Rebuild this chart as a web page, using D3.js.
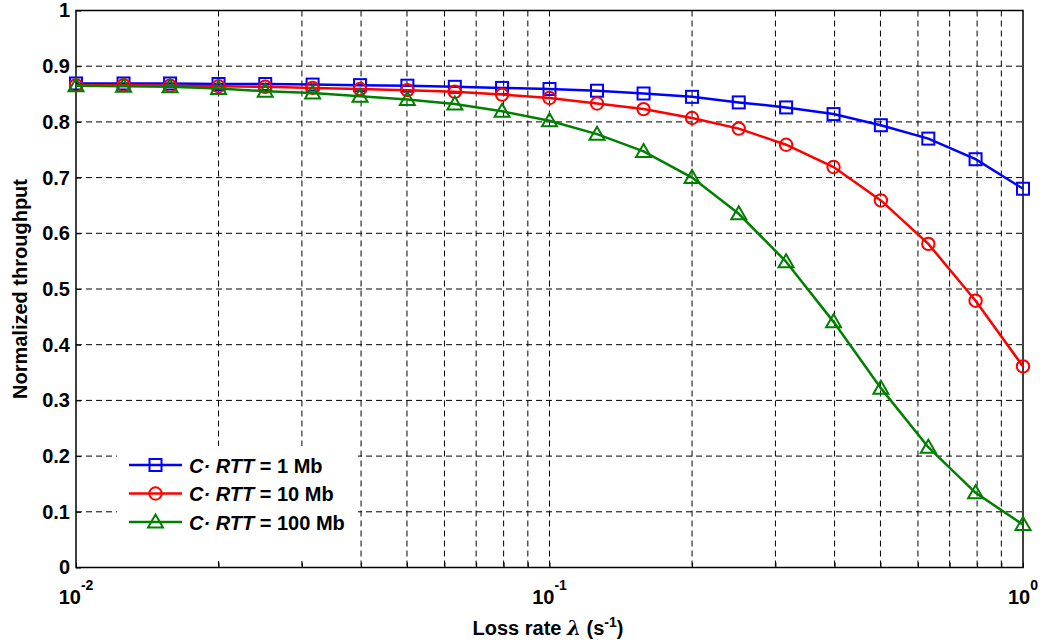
<!DOCTYPE html>
<html>
<head>
<meta charset="utf-8">
<script src="https://cdn.jsdelivr.net/npm/d3@7"></script>
<style>
  body { margin: 0; background: #fff; }
  text { font-family: "Liberation Sans", Arial, Helvetica, sans-serif; font-weight: bold; }
</style>
</head>
<body>
<div id="chart"></div>
<script>
// loss rate: 10 points per decade, 1e-2 .. 1e0
const lossRate = [0.01, 0.0126, 0.0158, 0.02, 0.0251, 0.0316, 0.0398, 0.0501, 0.0631, 0.0794,
                  0.1, 0.126, 0.158, 0.2, 0.251, 0.316, 0.398, 0.501, 0.631, 0.794, 1];
const tput1Mb   = [0.869, 0.869, 0.869, 0.868, 0.868, 0.867, 0.866, 0.865, 0.863, 0.861,
                   0.859, 0.856, 0.851, 0.845, 0.835, 0.826, 0.814, 0.794, 0.770, 0.733, 0.680];
const tput10Mb  = [0.866, 0.866, 0.865, 0.864, 0.863, 0.861, 0.859, 0.857, 0.854, 0.849,
                   0.843, 0.833, 0.823, 0.807, 0.788, 0.759, 0.719, 0.659, 0.581, 0.479, 0.361];
const tput100Mb = [0.865, 0.864, 0.863, 0.860, 0.855, 0.852, 0.846, 0.840, 0.832, 0.819,
                   0.802, 0.778, 0.747, 0.700, 0.635, 0.549, 0.441, 0.322, 0.216, 0.134, 0.077];
const seriesNames = ["1 Mb", "10 Mb", "100 Mb"];
const seriesColors = ["#0000ff", "#ff0000", "#008000"];
const seriesMarkers = ["square", "circle", "triangle"];
const yTicks = [0, 0.1, 0.2, 0.3, 0.4, 0.5, 0.6, 0.7, 0.8, 0.9, 1];
const xDecades = [0.01, 0.1, 1];
const xDecadeExp = ["-2", "-1", "0"];

const width = 1043, height = 643;
const mLeft = 76, mRight = 1023, mTop = 10.5, mBottom = 567.5;

const x = d3.scaleLog().domain([0.01, 1]).range([mLeft, mRight]);
const y = d3.scaleLinear().domain([0, 1]).range([mBottom, mTop]);

const svg = d3.select('#chart').append('svg')
    .attr('width', width)
    .attr('height', height);

// grid values: 1..9 times each decade
let xGrid = [];
[0.01, 0.1].forEach(d => { for (let k = 1; k <= 9; k++) xGrid.push(k * d); });
xGrid.push(1);

const grid = svg.append('g');
grid.selectAll('line.xg')
    .data(xGrid.filter(v => v > 0.0101 && v < 0.99))
    .enter().append('line')
        .attr('x1', d => x(d)).attr('x2', d => x(d))
        .attr('y1', mTop).attr('y2', mBottom)
        .attr('stroke', '#000').attr('stroke-width', 1)
        .attr('stroke-dasharray', '6,4');
grid.selectAll('line.yg')
    .data(yTicks.filter(v => v > 0 && v < 1))
    .enter().append('line')
        .attr('x1', mLeft).attr('x2', mRight)
        .attr('y1', d => y(d)).attr('y2', d => y(d))
        .attr('stroke', '#000').attr('stroke-width', 1)
        .attr('stroke-dasharray', '6,4');

// y axis
const yAxis = svg.append('g')
    .attr('transform', `translate(${mLeft},0)`)
    .call(d3.axisLeft(y).tickValues(yTicks).tickSizeInner(-5).tickSizeOuter(0)
        .tickPadding(6).tickFormat(d => String(+d.toFixed(1))));
yAxis.selectAll('text').style('font-size', '20px').attr('fill', '#000');

// x axis (ticks only, labels drawn below with superscripts)
const xAxis = svg.append('g')
    .attr('transform', `translate(0,${mBottom})`)
    .call(d3.axisBottom(x).tickValues(xGrid).tickSizeInner(-5).tickSizeOuter(0).tickFormat(''));
svg.selectAll('.domain').remove();
svg.selectAll('.tick line').attr('stroke', '#000');

const xl = svg.append('g').selectAll('text')
    .data(xDecades)
    .enter().append('text')
        .attr('x', d => x(d))
        .attr('y', 604)
        .attr('text-anchor', 'middle')
        .style('font-size', '20px');
xl.append('tspan').text('10');
xl.append('tspan').attr('dy', -14).style('font-size', '14px').text((d, i) => xDecadeExp[i]);

// box
svg.append('rect')
    .attr('x', mLeft).attr('y', mTop)
    .attr('width', mRight - mLeft).attr('height', mBottom - mTop)
    .attr('fill', 'none').attr('stroke', '#000').attr('stroke-width', 1.5);

// axis titles
const xt = svg.append('text')
    .attr('x', 548).attr('y', 635)
    .attr('text-anchor', 'middle')
    .style('font-size', '20px');
xt.append('tspan').text('Loss rate ');
xt.append('tspan').style('font-style', 'italic').style('font-family', 'DejaVu Serif').text('λ');
xt.append('tspan').text(' (s');
xt.append('tspan').attr('dy', -8).style('font-size', '14px').text('-1');
xt.append('tspan').attr('dy', 8).text(')');

svg.append('text')
    .attr('transform', `translate(27,${(mTop + mBottom) / 2}) rotate(-90)`)
    .attr('text-anchor', 'middle')
    .style('font-size', '20px')
    .text('Normalized throughput');

// series
const allSeries = [tput1Mb, tput10Mb, tput100Mb];
const line = d3.line().x(d => x(d[0])).y(d => y(d[1]));

function drawMarker(g, kind, color) {
    if (kind === 'square') {
        g.append('rect').attr('x', -6).attr('y', -6).attr('width', 12).attr('height', 12)
            .attr('fill', 'none').attr('stroke', color).attr('stroke-width', 2);
    } else if (kind === 'circle') {
        g.append('circle').attr('r', 6.2)
            .attr('fill', 'none').attr('stroke', color).attr('stroke-width', 2);
    } else {
        g.append('path').attr('d', 'M0,-7.5L7.5,5.5L-7.5,5.5Z')
            .attr('fill', 'none').attr('stroke', color).attr('stroke-width', 2);
    }
}

allSeries.forEach((vals, si) => {
    const pts = lossRate.map((lr, i) => [lr, vals[i]]);
    svg.append('path')
        .datum(pts)
        .attr('d', line)
        .attr('fill', 'none')
        .attr('stroke', seriesColors[si])
        .attr('stroke-width', 2.5);
    svg.append('g').selectAll('g')
        .data(pts)
        .enter().append('g')
            .attr('transform', d => `translate(${x(d[0])},${y(d[1])})`)
            .each(function() { drawMarker(d3.select(this), seriesMarkers[si], seriesColors[si]); });
});

// legend
const legend = svg.append('g');
legend.append('rect')
    .attr('x', 117).attr('y', 446).attr('width', 241).attr('height', 115)
    .attr('fill', '#fff');
seriesNames.forEach((name, i) => {
    const ly = 465 + i * 28.5;
    legend.append('line')
        .attr('x1', 129).attr('x2', 182).attr('y1', ly).attr('y2', ly)
        .attr('stroke', seriesColors[i]).attr('stroke-width', 2.5);
    const mg = legend.append('g').attr('transform', `translate(155.5,${ly})`);
    drawMarker(mg, seriesMarkers[i], seriesColors[i]);
    const t = legend.append('text')
        .attr('x', 189).attr('y', ly + 7.5)
        .style('font-size', '20px');
    t.append('tspan').style('font-style', 'italic').text('C· RTT');
    t.append('tspan').text(' = ' + name);
});
</script>
</body>
</html>
